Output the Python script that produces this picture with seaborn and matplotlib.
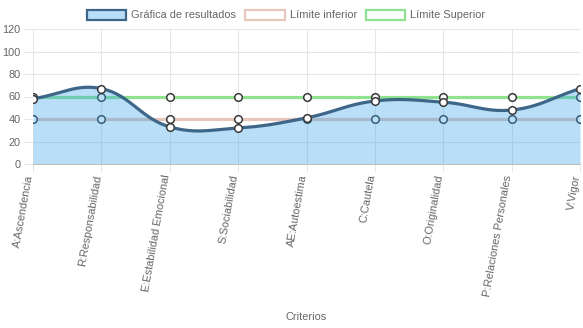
import numpy as np
import pandas as pd
import matplotlib
matplotlib.use("Agg")
import matplotlib.pyplot as plt
from matplotlib.patches import Patch
from matplotlib.transforms import ScaledTranslation
import seaborn as sns

# ---- data ----
categorias = ["A:Ascendencia", "R:Responsabilidad", "E:Estabilidad Emocional",
              "S:Sociabilidad", "AE:Autoestima", "C:Cautela", "O:Originalidad",
              "P:Relaciones Personales", "V:Vigor"]
resultados = [58, 67, 33, 32, 41, 56, 55, 48, 67]
limite_inferior = [40, 40, 40, 40, 40, 40, 40, 40, 40]
limite_superior = [60, 60, 60, 60, 60, 60, 60, 60, 60]
y_ticks = [0, 20, 40, 60, 80, 100, 120]

sns.set_theme(style="white")
plt.rcParams["font.family"] = ["Liberation Sans", "DejaVu Sans"]

FS = 7.9
W, H = 583, 328
fig = plt.figure(figsize=(W / 100, H / 100), dpi=100)
L, R, T, B = 33, 580, 29, 164
ax = fig.add_axes([L / W, (H - B) / H, (R - L) / W, (B - T) / H])

x = np.arange(len(categorias))
df = pd.DataFrame({"x": x, "cat": categorias, "res": resultados,
                   "inf": limite_inferior, "sup": limite_superior})

GRID = "#e6e6e6"
TXT = "#666666"
BLUE_LINE = "#3d6689"
BLUE_FILL = (54 / 255, 162 / 255, 235 / 255, 0.35)
PINK = "#e7c6bb"
GREEN = "#8fe38f"


def chartjs_spline(xs, ys, sx, sy, t=0.4, n=40):
    P = np.column_stack([np.asarray(xs, float) * sx, np.asarray(ys, float) * sy])
    m = len(P)
    cp_prev = np.zeros_like(P)
    cp_next = np.zeros_like(P)
    for i in range(m):
        prev = P[i - 1] if i > 0 else P[i]
        nxt = P[i + 1] if i < m - 1 else P[i]
        d01 = np.hypot(*(P[i] - prev))
        d12 = np.hypot(*(nxt - P[i]))
        s = d01 + d12
        s01 = d01 / s if s else 0
        s12 = d12 / s if s else 0
        cp_prev[i] = P[i] - t * s01 * (nxt - prev)
        cp_next[i] = P[i] + t * s12 * (nxt - prev)
    out = []
    tt = np.linspace(0, 1, n)[:, None]
    for i in range(m - 1):
        p0, p1, p2, p3 = P[i], cp_next[i], cp_prev[i + 1], P[i + 1]
        seg = ((1 - tt) ** 3) * p0 + 3 * ((1 - tt) ** 2) * tt * p1 + 3 * (1 - tt) * tt ** 2 * p2 + tt ** 3 * p3
        out.append(seg if i == 0 else seg[1:])
    out = np.vstack(out)
    return out[:, 0] / sx, out[:, 1] / sy


sx = (R - L) / (len(categorias) - 1)
sy = (B - T) / 120.0
bx, by = chartjs_spline(df["x"], df["res"], sx, sy)

# limit lines (drawn below the results fill)
sns.lineplot(data=df, x="x", y="sup", ax=ax, color=GREEN, lw=2.3, zorder=2, legend=False)
sns.lineplot(data=df, x="x", y="inf", ax=ax, color=PINK, lw=2.3, zorder=2, legend=False)
for col in ["sup", "inf"]:
    sns.scatterplot(data=df, x="x", y=col, ax=ax, s=30, color="white",
                    edgecolor="#3a3a3a", linewidth=1.1, zorder=3, legend=False)

# results series
ax.fill_between(bx, by, 0, color=BLUE_FILL, lw=0, zorder=4)
ax.plot(bx, by, color=BLUE_LINE, lw=2.3, zorder=5, solid_capstyle="round")
sns.scatterplot(data=df, x="x", y="res", ax=ax, s=30, color="white",
                edgecolor="#3a3a3a", linewidth=1.1, zorder=6, legend=False)

ax.set_xlim(0, len(categorias) - 1)
ax.set_ylim(0, 120)
ax.set_yticks(y_ticks)
ax.set_yticklabels([str(v) for v in y_ticks])
ax.set_xticks(x)
ax.set_xticklabels(categorias)
ax.grid(True, color=GRID, lw=0.75, zorder=0)
ax.set_axisbelow(True)
for s in ["top", "right", "left"]:
    ax.spines[s].set_visible(False)
ax.spines["bottom"].set_color("#bfbfbf")
ax.spines["bottom"].set_linewidth(0.75)
ax.spines["bottom"].set_zorder(7)

ax.tick_params(axis="y", which="both", left=True, length=6.5, width=0.75, color=GRID,
               pad=2.5, labelsize=FS, labelcolor=TXT)
ax.tick_params(axis="x", which="both", bottom=True, length=5.8, width=0.75, color=GRID,
               pad=2, labelsize=FS, labelcolor=TXT)
shift = ScaledTranslation(-3 / 100, 0, fig.dpi_scale_trans)
for lbl in ax.get_xticklabels():
    lbl.set_rotation(80)
    lbl.set_rotation_mode("anchor")
    lbl.set_ha("right")
    lbl.set_va("center")
    lbl.set_transform(lbl.get_transform() + shift)

ax.set_xlabel("Criterios", fontsize=FS, color=TXT)
ax.set_ylabel("")
ax.xaxis.label.set_va("center")
ax.xaxis.set_label_coords(0.5, (B - 317) / (B - T))

handles = [
    Patch(facecolor=BLUE_FILL, edgecolor=BLUE_LINE, linewidth=1.6, label="Gráfica de resultados"),
    Patch(facecolor="white", edgecolor=PINK, linewidth=1.6, label="Límite inferior"),
    Patch(facecolor="white", edgecolor=GREEN, linewidth=1.6, label="Límite Superior"),
]
leg = fig.legend(handles=handles, loc="center", bbox_to_anchor=(286 / W, 1 - 15 / H),
                 ncol=3, frameon=False, fontsize=FS, handlelength=3.6, handleheight=1.1,
                 handletextpad=0.45, columnspacing=0.8, borderpad=0, borderaxespad=0)
for t in leg.get_texts():
    t.set_color(TXT)

fig.savefig("out.png", dpi=100)
